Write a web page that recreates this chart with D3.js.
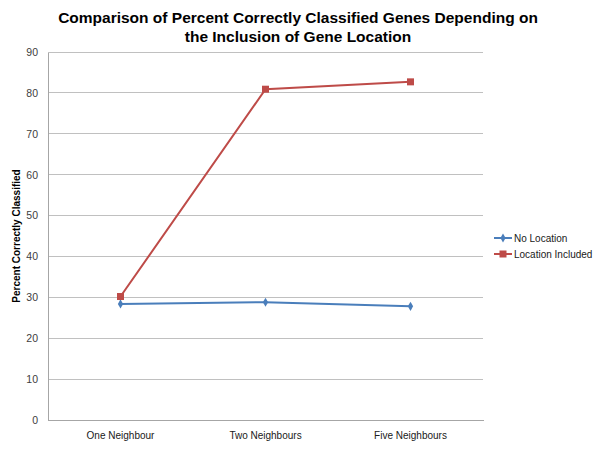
<!DOCTYPE html>
<html><head><meta charset="utf-8">
<script src="https://cdn.jsdelivr.net/npm/d3@7/dist/d3.min.js"></script>
<style>body{margin:0;background:#fff;} svg{display:block;font-family:"Liberation Sans",Arial,sans-serif;}</style>
</head><body><svg id="c" width="600" height="450"></svg>
<script>
const categories = ["One Neighbour", "Two Neighbours", "Five Neighbours"];
const noLocation = [28.4, 28.8, 27.8];
const locationIncluded = [30.2, 80.9, 82.7];
const yTicks = [0, 10, 20, 30, 40, 50, 60, 70, 80, 90];
const seriesNames = ["No Location", "Location Included"];
const colors = ["#4a7ebb", "#be4b48"];

const svg = d3.select("#c");
const m = {l: 48, r: 483, t: 52, b: 420};
const x = d3.scaleBand().domain(categories).range([m.l, m.r]);
const y = d3.scaleLinear().domain([0, 90]).range([m.b, m.t]);

svg.append("text").attr("x", 298).attr("y", 23).attr("text-anchor", "middle")
  .attr("font-size", 15.5).attr("font-weight", "bold").attr("fill", "#000")
  .text("Comparison of Percent Correctly Classified Genes Depending on");
svg.append("text").attr("x", 298).attr("y", 42).attr("text-anchor", "middle")
  .attr("font-size", 15.5).attr("font-weight", "bold").attr("fill", "#000")
  .text("the Inclusion of Gene Location");

// gridlines
svg.append("g").selectAll("line").data(yTicks.filter(d => d > 0)).join("line")
  .attr("x1", m.l).attr("x2", m.r).attr("y1", d => y(d)).attr("y2", d => y(d))
  .attr("stroke", "#c0c0c0").attr("stroke-width", 1).attr("shape-rendering", "crispEdges");

// y axis
const ya = svg.append("g").attr("transform", `translate(${m.l},0)`)
  .call(d3.axisLeft(y).tickValues(yTicks).tickSize(0).tickPadding(10));
ya.select(".domain").attr("stroke", "#a6a6a6").attr("shape-rendering", "crispEdges");
ya.selectAll("text").attr("font-size", 10.5).attr("fill", "#404040").attr("font-family", "Liberation Sans, Arial, sans-serif");

// x axis
const xa = svg.append("g").attr("transform", `translate(0,${m.b})`)
  .call(d3.axisBottom(x).tickSize(0).tickPadding(12));
xa.select(".domain").attr("stroke", "#a6a6a6").attr("shape-rendering", "crispEdges");
xa.selectAll("text").attr("font-size", 10).attr("fill", "#202020").attr("font-family", "Liberation Sans, Arial, sans-serif");

svg.append("text").attr("transform", `translate(20,${(m.t + m.b) / 2}) rotate(-90)`)
  .attr("text-anchor", "middle").attr("font-size", 10).attr("font-weight", "bold").attr("fill", "#000")
  .text("Percent Correctly Classified");

const cx = c => x(c) + x.bandwidth() / 2;
const line = d3.line().x((d, i) => cx(categories[i])).y(d => y(d));
const data = [noLocation, locationIncluded];
const diamond = d3.symbol().type(d3.symbolDiamond).size(24);

data.forEach((vals, si) => {
  svg.append("path").datum(vals).attr("d", line).attr("fill", "none")
    .attr("stroke", colors[si]).attr("stroke-width", 2);
  const g = svg.append("g");
  if (si === 0) {
    g.selectAll("path").data(vals).join("path").attr("d", diamond)
      .attr("transform", (d, i) => `translate(${cx(categories[i])},${y(d)})`).attr("fill", colors[si]);
  } else {
    g.selectAll("rect").data(vals).join("rect")
      .attr("x", (d, i) => cx(categories[i]) - 3.5).attr("y", d => y(d) - 3.5)
      .attr("width", 7).attr("height", 7).attr("fill", colors[si]);
  }
});

// legend
const lg = svg.append("g");
seriesNames.forEach((name, i) => {
  const ly = 238 + i * 16;
  lg.append("line").attr("x1", 494).attr("x2", 512).attr("y1", ly).attr("y2", ly)
    .attr("stroke", colors[i]).attr("stroke-width", 2);
  if (i === 0) {
    lg.append("path").attr("d", diamond).attr("transform", `translate(503,${ly})`).attr("fill", colors[i]);
  } else {
    lg.append("rect").attr("x", 499.5).attr("y", ly - 3.5).attr("width", 7).attr("height", 7).attr("fill", colors[i]);
  }
  lg.append("text").attr("x", 514).attr("y", ly + 3.5).attr("font-size", 10).attr("fill", "#202020").text(name);
});
</script></body></html>
